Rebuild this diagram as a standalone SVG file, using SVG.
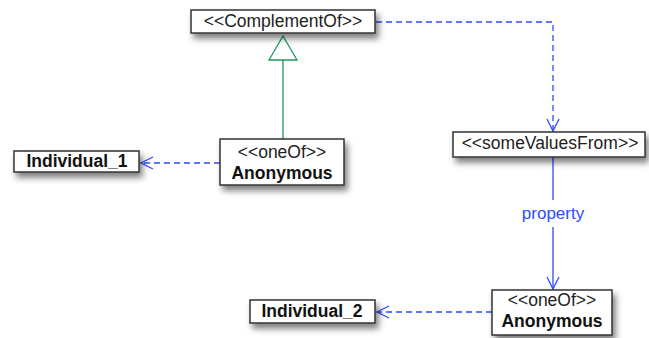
<svg xmlns="http://www.w3.org/2000/svg" width="649" height="338" viewBox="0 0 649 338">
<style>
.box{fill:#fff;stroke:#333;stroke-width:1.5;filter:url(#sh)}
.st{font-family:"Liberation Sans",Arial,sans-serif;font-size:17.5px;fill:#222;text-anchor:middle}
.nm{font-family:"Liberation Sans",Arial,sans-serif;font-size:17.5px;font-weight:bold;fill:#111;text-anchor:middle}
.dash{fill:none;stroke:#2d4cff;stroke-width:1.3;stroke-dasharray:6,4}
.solid{fill:none;stroke:#2d4cff;stroke-width:1.3}
.lbl{font-family:"Liberation Sans",Arial,sans-serif;font-size:17px;fill:#2d4cff;text-anchor:middle}
</style>
<defs>
<filter id="sh" x="-20%" y="-30%" width="150%" height="190%">
<feDropShadow dx="3" dy="5" stdDeviation="3" flood-color="#000" flood-opacity="0.5"/>
</filter>
<marker id="open" viewBox="0 0 14 14" refX="13" refY="7" markerWidth="14" markerHeight="14" markerUnits="userSpaceOnUse" orient="auto">
<path d="M1,1 L13,7 L1,13" fill="none" stroke="#2d4cff" stroke-width="1.3"/>
</marker>
</defs>
<rect width="649" height="338" fill="#fff"/>
<g id="connectors">
<line x1="283" y1="60" x2="283" y2="139" stroke="#1e9a5a" stroke-width="1.3"/>
<path d="M283,36 L297,60 L269,60 Z" fill="#fff" stroke="#1e9a5a" stroke-width="1.3"/>
<line class="dash" x1="220" y1="163" x2="141" y2="163" marker-end="url(#open)"/>
<path class="dash" d="M376,22 L553,22 L553,131" marker-end="url(#open)"/>
<line class="solid" x1="553" y1="157" x2="553" y2="200"/>
<line class="solid" x1="553" y1="227" x2="553" y2="289" marker-end="url(#open)"/>
<text class="lbl" x="553" y="219">property</text>
<line class="dash" x1="492" y1="312" x2="377" y2="312" marker-end="url(#open)"/>
</g>
<g id="complementOf">
<rect class="box" x="191" y="10" width="184" height="23"/>
<text class="st" x="283" y="27">&lt;&lt;ComplementOf&gt;&gt;</text>
</g>
<g id="anonymous1">
<rect class="box" x="220" y="139" width="124" height="46"/>
<text class="st" x="282" y="158">&lt;&lt;oneOf&gt;&gt;</text>
<text class="nm" x="282" y="179">Anonymous</text>
</g>
<g id="individual1">
<rect class="box" x="14" y="151" width="125" height="21"/>
<text class="nm" x="77" y="167">Individual_1</text>
</g>
<g id="someValuesFrom">
<rect class="box" x="453" y="132" width="192" height="25"/>
<text class="st" x="550" y="149">&lt;&lt;someValuesFrom&gt;&gt;</text>
</g>
<g id="anonymous2">
<rect class="box" x="492" y="290" width="120" height="45"/>
<text class="st" x="552" y="306">&lt;&lt;oneOf&gt;&gt;</text>
<text class="nm" x="552" y="327">Anonymous</text>
</g>
<g id="individual2">
<rect class="box" x="250" y="300" width="125" height="23"/>
<text class="nm" x="312" y="317">Individual_2</text>
</g>
</svg>
